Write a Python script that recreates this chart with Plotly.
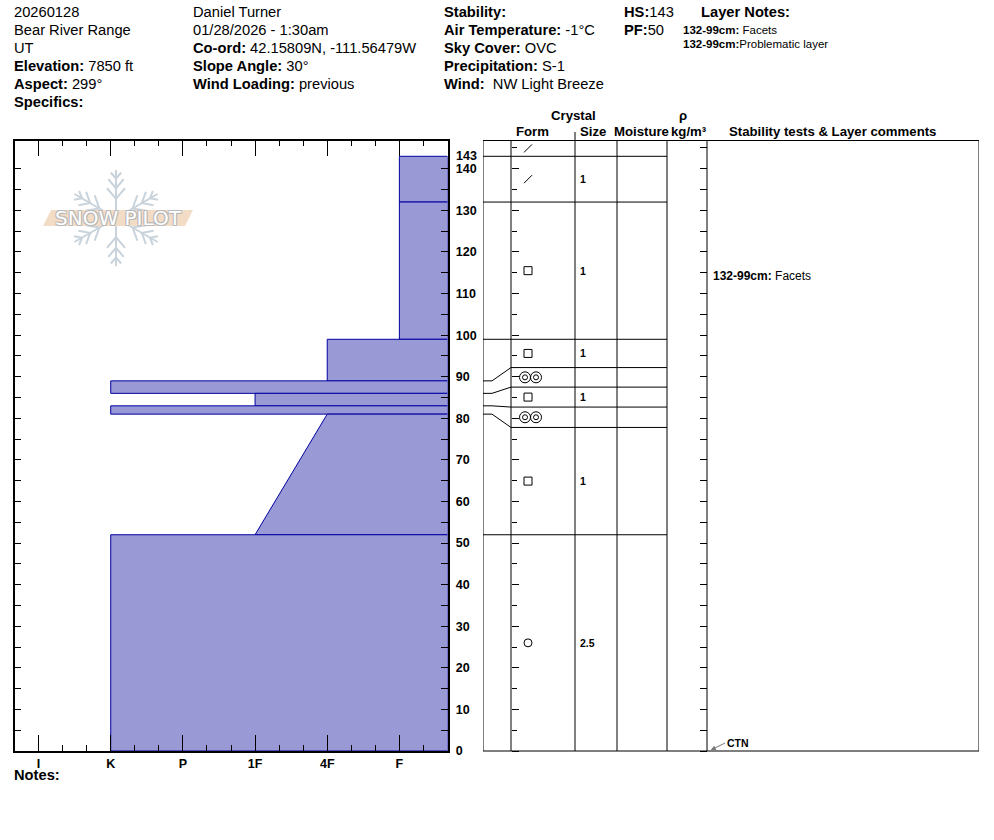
import math
import plotly.graph_objects as go

W, H = 994, 840
# the captured page comes out slightly squeezed vertically; stretch to compensate
YS = 840 / 833

# ---- pit header ----
header_col1 = ['20260128', 'Bear River Range', 'UT',
               '<b>Elevation:</b> 7850 ft', '<b>Aspect:</b> 299°', '<b>Specifics:</b>']
header_col2 = ['Daniel Turner', '01/28/2026 - 1:30am',
               '<b>Co-ord:</b> 42.15809N, -111.56479W',
               '<b>Slope Angle:</b> 30°', '<b>Wind Loading:</b> previous']
header_col3 = ['<b>Stability:</b>', '<b>Air Temperature:</b> -1°C', '<b>Sky Cover:</b> OVC',
               '<b>Precipitation:</b> S-1', '<b>Wind:</b>  NW Light Breeze']
hs = 143
pf = 50
layer_notes = ['<b>132-99cm:</b> Facets', '<b>132-99cm:</b>Problematic layer']

# ---- layers (cm from ground) ----
hardness_levels = ['I', 'K', 'P', '1F', '4F', 'F']
layer_top = [143, 132, 99, 89, 86, 83, 81, 52]
layer_bottom = [132, 99, 89, 86, 83, 81, 52, 0]
hard_top = ['F', 'F', '4F', 'K', '1F', 'K', '4F', 'K']
hard_bottom = ['F', 'F', '4F', 'K', '1F', 'K', '1F', 'K']
grain_form = ['DF', 'FC', 'FC', 'MFcr', 'FC', 'MFcr', 'FC', 'RG']
grain_size = ['1', '1', '1', '', '1', '', '1', '2.5']
# where each layer is written in the table (thin layers pushed apart)
cell_top = [143, 132, 99, 92.2, 87.5, 82.7, 77.8, 52]
layer_comments = {1: '<b>132-99cm:</b> Facets'}
test_names = ['CTN']
test_depths = [0]

depth_max = 146.8

# page layout in pixels
PLOT_TOP, PLOT_BOT = 140.5, 751
HARD_L, HARD_R = 14.5, 447.5
TAB_L, TAB_R = 483, 979
TAB_COLS = [511, 575, 617, 667, 707]
FORM_X, SIZE_X = 528, 580

FILL = 'rgb(153,153,214)'
EDGE = 'rgb(0,0,160)'
FONT = 'Liberation Sans, Arial, sans-serif'


def px(x):
    return x / W


def py(y):
    return 1 - y * YS / H


def hard_index(h):
    return hardness_levels.index(h) + 1


x_lo, x_hi = 2 / 3, len(hardness_levels) + 2 / 3

fig = go.Figure()

# hardness profile
for top, bot, ht, hb in zip(layer_top, layer_bottom, hard_top, hard_bottom):
    fig.add_trace(go.Scatter(
        x=[x_hi, hard_index(ht), hard_index(hb), x_hi, x_hi],
        y=[top, top, bot, bot, top],
        mode='lines', fill='toself', fillcolor=FILL,
        line=dict(color=EDGE, width=1), hoverinfo='skip',
        xaxis='x', yaxis='y'))

# table: layer boundaries with leader lines
for actual, shown in zip(layer_top, cell_top):
    fig.add_trace(go.Scatter(
        x=[TAB_L, 492, TAB_COLS[0], TAB_COLS[3]],
        y=[actual, actual, shown, shown],
        mode='lines', line=dict(color='black', width=1),
        hoverinfo='skip', xaxis='x2', yaxis='y2'))


def add_form(form, depth):
    def mk(xs, symbol, size):
        fig.add_trace(go.Scatter(
            x=xs, y=[depth] * len(xs), mode='markers',
            marker=dict(symbol=symbol, size=size, color='black',
                        line=dict(color='black', width=1)),
            hoverinfo='skip', xaxis='x2', yaxis='y2'))
    if form == 'DF':
        mk([FORM_X], 'line-ne', 8)
    elif form == 'FC':
        mk([FORM_X], 'square-open', 8)
    elif form == 'RG':
        mk([FORM_X], 'circle-open', 8)
    elif form == 'MFcr':
        mk([FORM_X - 3, FORM_X + 8], 'circle-open', 11)
        mk([FORM_X - 3, FORM_X + 8], 'circle-open', 5)


cell_bottom = cell_top[1:] + [0]
add_form(grain_form[0], (depth_max + hs) / 2)
for i, form in enumerate(grain_form):
    mid = (cell_top[i] + cell_bottom[i]) / 2
    add_form(form, mid)
    if grain_size[i]:
        fig.add_annotation(x=SIZE_X, y=mid, xref='x2', yref='y2', text='<b>%s</b>' % grain_size[i],
                           showarrow=False, xanchor='left', yanchor='middle', xshift=-2,
                           font=dict(size=10.5, family=FONT))
    if i in layer_comments:
        fig.add_annotation(x=713, y=mid, xref='x2', yref='y2', text=layer_comments[i],
                           showarrow=False, xanchor='left', yanchor='middle', xshift=-2, yshift=-5,
                           font=dict(size=12, family=FONT))

for name, d in zip(test_names, test_depths):
    fig.add_annotation(x=709, y=d, xref='x2', yref='y2', text='<b>%s</b>' % name,
                       showarrow=True, arrowhead=2, arrowsize=1, arrowwidth=1,
                       arrowcolor='#777777', ax=16, ay=-8, xanchor='left', standoff=2,
                       font=dict(size=10.5, family=FONT))

# invisible traces so the tick-only axes are drawn
for ya in ['y3', 'y4']:
    fig.add_trace(go.Scatter(x=[TAB_L], y=[0], mode='markers', marker=dict(opacity=0),
                             hoverinfo='skip', xaxis='x2', yaxis=ya))

# table frame and columns
shapes = [dict(type='rect', xref='x2', yref='paper', x0=TAB_L, x1=TAB_R,
               y0=py(PLOT_BOT), y1=py(PLOT_TOP), line=dict(color='black', width=1))]
for c in TAB_COLS:
    top = 132 if c == 575 else PLOT_TOP
    shapes.append(dict(type='line', xref='x2', yref='paper', x0=c, x1=c,
                       y0=py(PLOT_BOT), y1=py(top), line=dict(color='black', width=1)))

# Snow Pilot logo
cx, cy, arm = 116, 218, 48
flake = '#c9d3db'
for k in range(6):
    a = math.radians(90 + 60 * k)
    ux, uy = math.cos(a), -math.sin(a)
    shapes.append(dict(type='line', xref='paper', yref='paper',
                       x0=px(cx), y0=py(cy), x1=px(cx + arm * ux), y1=py(cy + arm * uy),
                       line=dict(color=flake, width=2)))
    for f, blen in [(0.4, 14), (0.62, 12), (0.82, 8)]:
        bx, by = cx + arm * f * ux, cy + arm * f * uy
        for s in (-1, 1):
            b = a + s * math.radians(40)
            vx, vy = math.cos(b), -math.sin(b)
            shapes.append(dict(type='line', xref='paper', yref='paper',
                               x0=px(bx), y0=py(by), x1=px(bx + blen * vx), y1=py(by + blen * vy),
                               line=dict(color=flake, width=2)))
band = [(43, 226), (51, 210), (193, 210), (185, 226)]
path = 'M ' + ' L '.join('%f,%f' % (px(x), py(y)) for x, y in band) + ' Z'
shapes.append(dict(type='path', xref='paper', yref='paper', path=path,
                   fillcolor='#f2dcc6', line=dict(width=0)))
fig.add_annotation(x=px(118), y=py(218), xref='paper', yref='paper', text='SNOW PILOT',
                   showarrow=False, xanchor='center', yanchor='middle',
                   font=dict(size=20, family='DejaVu Sans', color='white',
                   shadow='-1px -1px 0 #b8b8b8, 1px -1px 0 #b8b8b8, -1px 1px 0 #b8b8b8, 1px 1px 0 #b8b8b8'))


# header text
def header(x, y, text, size=14.7):
    fig.add_annotation(x=px(x - 2), y=py(y), xref='paper', yref='paper', text=text,
                       showarrow=False, xanchor='left', yanchor='middle',
                       font=dict(size=size, family=FONT))


for i, t in enumerate(header_col1):
    header(14, 12 + 18 * i, t)
for i, t in enumerate(header_col2):
    header(193, 12 + 18 * i, t)
for i, t in enumerate(header_col3):
    header(444, 12 + 18 * i, t)
header(624, 12, '<b>HS:</b>%d' % hs)
header(624, 30, '<b>PF:</b>%d' % pf)
header(701, 12, '<b>Layer Notes:</b>')
for i, t in enumerate(layer_notes):
    header(683, 30.5 + 13.5 * i, t, size=11.5)
header(14, 775, '<b>Notes:</b>')

# table headings
for x, y, t in [(573, 116, 'Crystal'), (532, 132, 'Form'), (593, 132, 'Size'),
                (641, 132, 'Moisture'), (683, 116, 'ρ'), (689, 131, 'kg/m³'),
                (832, 132, 'Stability tests & Layer comments')]:
    fig.add_annotation(x=px(x), y=py(y), xref='paper', yref='paper', text='<b>%s</b>' % t,
                       showarrow=False, xanchor='center', yanchor='middle',
                       font=dict(size=13.2, family=FONT))

# HS label next to the depth scale
fig.add_annotation(x=1, y=hs, xref='x domain', yref='y', text='<b>%d</b>' % hs,
                   showarrow=False, xanchor='left', yanchor='middle', xshift=7,
                   font=dict(size=12.5, family=FONT))

depth_ticks = list(range(0, 141, 5))
depth_text = [str(v) if v % 10 == 0 else '' for v in depth_ticks]
ydom = [py(PLOT_BOT), py(PLOT_TOP)]

fig.update_layout(
    width=W, height=H, margin=dict(l=0, r=0, t=0, b=0),
    paper_bgcolor='white', plot_bgcolor='white', showlegend=False,
    font=dict(family=FONT, color='black'),
    shapes=shapes,
    xaxis=dict(domain=[px(HARD_L), px(HARD_R)], range=[x_lo, x_hi], anchor='y',
               tickvals=list(range(1, len(hardness_levels) + 1)), ticktext=hardness_levels,
               ticks='inside', ticklen=16, tickcolor='black', tickwidth=1,
               minor=dict(tickmode='linear', tick0=1, dtick=1 / 3, ticks='inside',
                          ticklen=6, tickcolor='black', tickwidth=1, showgrid=False),
               mirror='ticks', showline=True, linecolor='black', linewidth=1.5,
               showgrid=False, zeroline=False, fixedrange=True, ticklabelstandoff=0,
               tickfont=dict(size=12.5, family=FONT, weight='bold')),
    yaxis=dict(domain=ydom, range=[0, depth_max], anchor='x', side='right',
               tickvals=depth_ticks, ticktext=depth_text,
               ticks='inside', ticklen=7, tickcolor='black', tickwidth=1,
               mirror='ticks', showline=True, linecolor='black', linewidth=1.5,
               showgrid=False, zeroline=False, fixedrange=True, ticklabelstandoff=4,
               tickfont=dict(size=12.5, family=FONT, weight='bold')),
    xaxis2=dict(domain=[px(TAB_L), px(TAB_R)], range=[TAB_L, TAB_R], anchor='y2',
                visible=False, fixedrange=True),
    yaxis2=dict(domain=ydom, range=[0, depth_max], anchor='x2', visible=False, fixedrange=True),
    yaxis3=dict(overlaying='y2', anchor='free', position=px(TAB_COLS[0]), side='right',
                range=[0, depth_max], tickmode='linear', tick0=0, dtick=10,
                ticks='outside', ticklen=7, tickcolor='black', showticklabels=False,
                minor=dict(tickmode='linear', tick0=5, dtick=10, ticks='outside', ticklen=4.5,
                           tickcolor='black'),
                showline=False, showgrid=False, zeroline=False, fixedrange=True),
    yaxis4=dict(overlaying='y2', anchor='free', position=px(TAB_COLS[4]), side='left',
                range=[0, depth_max], tickmode='linear', tick0=0, dtick=5,
                ticks='outside', ticklen=7, tickcolor='black', showticklabels=False,
                showline=False, showgrid=False, zeroline=False, fixedrange=True),
)

# drop the browser's default page margin so the figure fills the window
fig.write_html('out.html', config={'displayModeBar': False},
               post_script="document.body.style.margin = '0';")
